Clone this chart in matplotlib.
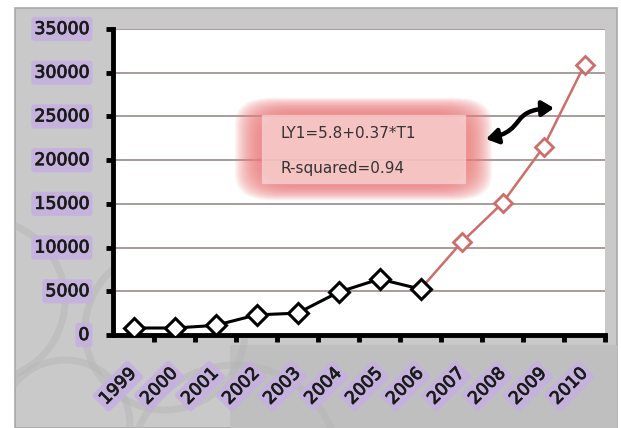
"""Line chart 1999-2010 with fitted-model annotation."""

import matplotlib.pyplot as plt
import matplotlib.patches as mpatches
import matplotlib.patheffects as pe
from matplotlib.path import Path

years = ["1999", "2000", "2001", "2002", "2003", "2004",
         "2005", "2006", "2007", "2008", "2009", "2010"]
observed = [800, 800, 1100, 2300, 2500, 4900, 6400, 5250]
forecast = [5250, 10600, 15100, 21500, 30900]
yticks = [0, 5000, 10000, 15000, 20000, 25000, 30000, 35000]
eq_lines = ["LY1=5.8+0.37*T1", "R-squared=0.94"]

W, H = 621, 428


def fx(px):
    return px / W


def fy(py):
    return 1 - py / H


fig = plt.figure(figsize=(6.21, 4.28), dpi=100)
fig.patch.set_facecolor("white")

# grey chart frame
frame = mpatches.Rectangle((fx(15), 0), fx(617) - fx(15), fy(8),
                           transform=fig.transFigure, facecolor="#c9c9c9",
                           edgecolor="#a8a8a8", linewidth=1.2, zorder=0)
fig.patches.append(frame)
shade = mpatches.Rectangle((fx(230), 0), fx(617) - fx(230), fy(345),
                           transform=fig.transFigure, facecolor="#bfbfbf",
                           edgecolor="none", zorder=0.1)
fig.patches.append(shade)

# faint watermark arcs in the lower-left
for cx, cy, r in [(165, 330, 80), (235, 470, 105), (65, 425, 65), (-15, 300, 80)]:
    arc = mpatches.Ellipse((fx(cx), fy(cy)), 2 * r / W, 2 * r / H,
                           transform=fig.transFigure, facecolor="none",
                           edgecolor="#b6b6b6", linewidth=5, alpha=0.5,
                           zorder=0.2)
    arc.set_clip_path(frame)
    fig.patches.append(arc)

ax = fig.add_axes([fx(113), fy(335), fx(605) - fx(113), fy(29) - fy(335)])
ax.set_zorder(1)
ax.set_facecolor("white")
ax.set_xlim(-0.5, len(years) - 0.5)
ax.set_ylim(0, 35000)

for v in yticks[1:]:
    ax.axhline(v, color="#9c8a8a", linewidth=1.2, zorder=1)

x_obs = list(range(len(observed)))
x_fc = list(range(len(observed) - 1, len(observed) - 1 + len(forecast)))
ax.plot(x_fc, forecast, color="#cd6e6a", linewidth=1.8, marker="D",
        markersize=9, markerfacecolor="white", markeredgecolor="#cd6e6a",
        markeredgewidth=2, zorder=3)
ax.plot(x_obs, observed, color="black", linewidth=2.2, marker="D",
        markersize=10, markerfacecolor="white", markeredgecolor="black",
        markeredgewidth=2.2, zorder=4)

for side in ["top", "right"]:
    ax.spines[side].set_visible(False)
for side in ["left", "bottom"]:
    ax.spines[side].set_linewidth(3.5)
ax.set_yticks(yticks)
ax.set_xticks([i - 0.5 for i in range(1, len(years) + 1)])
ax.set_xticklabels([])
ax.tick_params(axis="both", direction="out", length=5, width=3.5)
ax.set_yticklabels([])

label_box = dict(boxstyle="round,pad=0.18", facecolor="#c5b0e2",
                 edgecolor="none", alpha=0.85)
stroke = [pe.withStroke(linewidth=0.6, foreground="#222222")]
for v in yticks:
    ax.annotate(str(v), xy=(0, v), xycoords=("axes fraction", "data"),
                xytext=(-17, 0), textcoords="offset points",
                ha="right", va="center", fontsize=12.5, color="#1a1a1a",
                bbox=label_box, path_effects=stroke, annotation_clip=False)
for i, yr in enumerate(years):
    ax.annotate(yr, xy=(i, 0), xycoords=("data", "axes fraction"),
                xytext=(-4.5, -21), textcoords="offset points",
                ha="right", va="top", rotation=45, rotation_mode="anchor",
                fontsize=12.5, color="#1a1a1a", bbox=label_box,
                path_effects=stroke, annotation_clip=False)

# pink glow behind the equation box
steps = 20
for k in range(steps):
    grow = (steps - k) * 1.8
    glow = mpatches.FancyBboxPatch(
        (fx(262 - grow * 0.75), fy(184 + grow * 0.45)),
        fx(465 + grow * 0.75) - fx(262 - grow * 0.75),
        fy(114 - grow * 0.45) - fy(184 + grow * 0.45),
        boxstyle="round,pad=0,rounding_size=0.06",
        transform=fig.transFigure, facecolor="#ee7d7d",
        edgecolor="none", alpha=0.085, zorder=5)
    fig.patches.append(glow)
inner = mpatches.Rectangle((fx(262), fy(183)), fx(465) - fx(262),
                           fy(115) - fy(183), transform=fig.transFigure,
                           facecolor="#fde8e8", edgecolor="#f3d6d6",
                           linewidth=1, alpha=0.6, zorder=6)
fig.patches.append(inner)
fig.text(fx(280), fy(133), eq_lines[0], ha="left", va="center",
         fontsize=11, color="#333333", zorder=7)
fig.text(fx(280), fy(168), eq_lines[1], ha="left", va="center",
         fontsize=11, color="#333333", zorder=7)

# curvy double-headed arrow
verts = [(fx(486), fy(139)), (fx(528), fy(130)), (fx(508), fy(110)),
         (fx(554), fy(108))]
arrow = mpatches.FancyArrowPatch(
    path=Path(verts, [Path.MOVETO, Path.CURVE4, Path.CURVE4, Path.CURVE4]),
    arrowstyle="<|-|>,head_length=7,head_width=4.5", color="black",
    linewidth=3.2, transform=fig.transFigure, zorder=8)
fig.patches.append(arrow)

fig.savefig("out.png", dpi=100, facecolor=fig.get_facecolor())
